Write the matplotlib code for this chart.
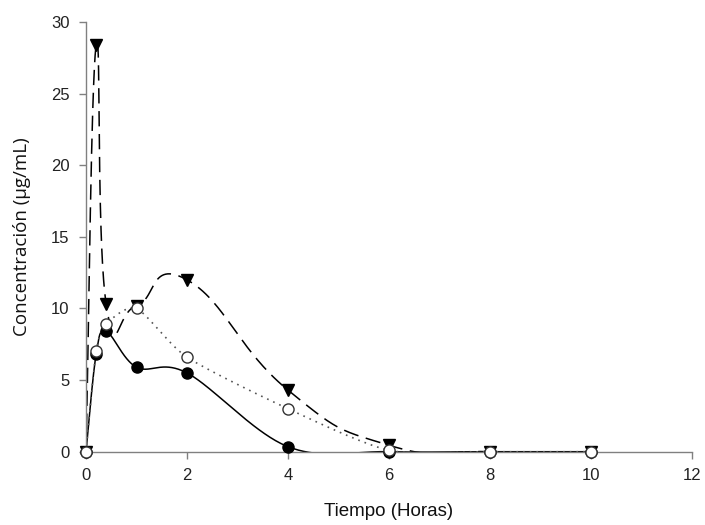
#!/usr/bin/env python3
"""
Concentración vs tiempo - recreated plot
Three series with smoothed lines (Bezier/Catmull-Rom through the measured points)
"""

import numpy as np
import matplotlib
matplotlib.use('Agg')
import matplotlib.pyplot as plt

# Data
tiempo = [0, 0.2, 0.4, 1, 2, 4, 6, 8, 10]
serie_llena = [0, 6.8, 8.4, 5.9, 5.5, 0.35, 0.0, 0.0, 0.0]        # filled circles
serie_abierta = [0, 7.0, 8.9, 10.0, 6.6, 3.0, 0.1, 0.0, 0.0]      # open circles
serie_triang = [0, 28.4, 10.3, 10.2, 12.0, 4.3, 0.45, 0.0, 0.0]   # filled triangles

x_ticks = [0, 2, 4, 6, 8, 10, 12]
y_ticks = [0, 5, 10, 15, 20, 25, 30]


def smooth_line(xs, ys, tension=1 / 6.0, n=60):
    """Catmull-Rom style cubic Bezier through every point"""
    P = np.column_stack([xs, ys]).astype(float)
    m = len(P)
    seg = []
    s = np.linspace(0, 1, n)[:, None]
    for i in range(m - 1):
        p0 = P[max(i - 1, 0)]
        p1 = P[i]
        p2 = P[i + 1]
        p3 = P[min(i + 2, m - 1)]
        c1 = p1 + (p2 - p0) * tension
        c2 = p2 - (p3 - p1) * tension
        b = ((1 - s) ** 3 * p1 + 3 * (1 - s) ** 2 * s * c1
             + 3 * (1 - s) * s ** 2 * c2 + s ** 3 * p2)
        seg.append(b)
    pts = np.vstack(seg)
    return pts[:, 0], pts[:, 1]


fig = plt.figure(figsize=(7.05, 5.25), dpi=100)
ax = fig.add_axes([0.122, 0.1396, 0.8596, 0.8184])

# triangles, dashed
sx, sy = smooth_line(tiempo, serie_triang, tension=0.25)
ax.plot(sx, sy, color='black', lw=1.1, dashes=(10, 5), zorder=2)
ax.plot(tiempo, serie_triang, 'v', color='black', ms=8.5, zorder=4, clip_on=False)

# filled circles, solid
sx, sy = smooth_line(tiempo, serie_llena, tension=0.17)
ax.plot(sx, sy, color='black', lw=1.1, zorder=2)
ax.plot(tiempo, serie_llena, 'o', color='black', ms=8, zorder=5, clip_on=False)

# open circles, dotted
sx, sy = smooth_line(tiempo, serie_abierta, tension=0.12)
ax.plot(sx, sy, color='#555555', lw=1.2, dashes=(1, 3), zorder=2)
ax.plot(tiempo, serie_abierta, 'o', mfc='white', mec='#333333', mew=1.0, ms=8,
        zorder=6, clip_on=False)

ax.set_xlim(0, 12)
ax.set_ylim(0, 30)
ax.set_xticks(x_ticks)
ax.set_yticks(y_ticks)

for side in ['top', 'right']:
    ax.spines[side].set_visible(False)
for side in ['left', 'bottom']:
    ax.spines[side].set_color('#808080')
    ax.spines[side].set_linewidth(1.0)

ax.tick_params(direction='out', length=5, width=1, color='#808080',
               labelsize=12, labelcolor='#222222', pad=7)
for lab in ax.get_xticklabels() + ax.get_yticklabels():
    lab.set_family('Liberation Sans')

ax.set_xlabel('Tiempo (Horas)', family='Liberation Sans', fontsize=13.5,
              color='#111111', labelpad=14)
ax.set_ylabel('Concentración (µg/mL)', family='Open Sans', fontsize=13.5,
              color='#111111', labelpad=14)

fig.savefig('out.png', dpi=100, facecolor='white')
